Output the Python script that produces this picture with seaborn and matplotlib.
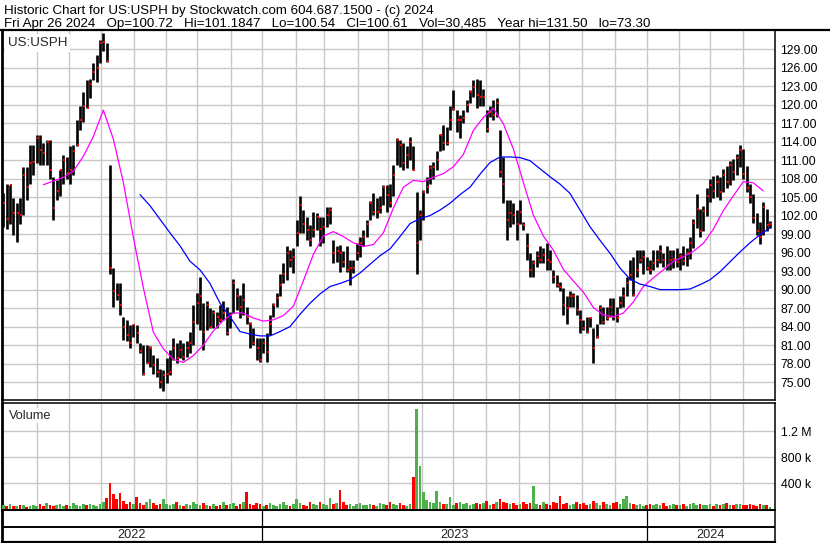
import matplotlib
matplotlib.use('Agg')
import matplotlib.pyplot as plt
from matplotlib.lines import Line2D
import numpy as np
import seaborn as sns

sns.set_style('white')
plt.rcParams['font.family'] = ['Liberation Sans', 'DejaVu Sans']

# ---------------- data (one bar per ~2 trading days) ----------------
highs = [105.6, 107.2, 107.0, 104.8, 104.0, 104.8, 109.9, 109.9, 113.4, 113.4,
         115.1, 115.1, 113.7, 114.3, 114.3, 108.3, 107.8, 109.4, 111.8, 111.5,
         113.2, 113.4, 117.5, 119.7, 122.1, 124.0, 124.2, 126.7, 128.0, 130.5,
         131.6, 129.9, 110.2, 93.5, 91.0, 91.0, 85.6, 85.1, 84.3, 84.5,
         84.3, 81.3, 81.0, 81.0, 80.8, 79.4, 78.9, 77.2, 77.0, 78.9,
         80.2, 82.1, 81.3, 81.8, 81.3, 81.6, 83.2, 87.5, 89.4, 92.1,
         87.8, 88.1, 87.0, 86.7, 86.4, 87.5, 88.1, 87.2, 86.4, 91.8,
         90.2, 89.1, 91.0, 87.2, 84.8, 83.7, 82.1, 82.1, 82.1, 82.9,
         85.9, 87.8, 89.4, 92.6, 94.3, 97.0, 96.4, 96.7, 101.3, 105.1,
         102.9, 101.8, 100.5, 102.6, 102.4, 101.8, 101.8, 103.4, 103.4, 98.0,
         97.0, 97.2, 96.2, 97.0, 94.8, 94.8, 97.5, 98.6, 99.7, 101.3,
         104.3, 105.6, 104.8, 105.1, 107.0, 107.0, 107.2, 110.2, 114.5, 114.3,
         113.7, 113.2, 114.8, 113.2, 105.9, 102.9, 106.1, 108.3, 110.2, 110.7,
         112.4, 115.3, 116.7, 116.4, 119.7, 122.4, 119.1, 118.3, 119.1, 120.7,
         122.4, 124.0, 124.2, 124.0, 122.6, 119.1, 119.7, 120.7, 121.0, 115.9,
         111.5, 104.5, 104.5, 104.0, 102.9, 104.5, 101.0, 99.1, 95.9, 94.8,
         96.2, 97.0, 96.7, 97.5, 96.4, 93.2, 92.4, 91.3, 90.2, 88.9,
         89.7, 89.4, 89.1, 86.7, 85.1, 85.6, 85.6, 83.7, 84.5, 87.5,
         87.2, 87.2, 88.6, 88.6, 87.2, 88.9, 90.5, 92.1, 94.8, 95.3,
         96.4, 96.4, 96.4, 95.3, 94.8, 96.4, 96.4, 97.2, 95.9, 97.0,
         96.4, 96.4, 96.8, 96.0, 97.0, 96.8, 98.5, 101.5, 105.5, 103.0,
         103.5, 106.5, 108.0, 108.4, 108.6, 108.2, 109.5, 110.0, 110.8, 111.2,
         112.0, 113.5, 112.8, 110.0, 107.2, 105.5, 102.5, 101.0, 104.2, 103.0,
         101.2]
lows = [100.2, 99.9, 100.7, 98.9, 97.8, 100.7, 102.1, 104.5, 107.2, 108.6,
        110.5, 110.2, 110.2, 110.2, 108.0, 101.3, 104.5, 105.1, 107.2, 108.0,
        107.2, 108.6, 113.2, 115.9, 117.2, 119.4, 121.0, 124.0, 123.7, 126.7,
        128.6, 126.9, 92.5, 87.2, 88.3, 85.9, 81.8, 81.6, 80.5, 82.4,
        81.3, 79.7, 76.2, 78.1, 77.5, 76.4, 75.9, 74.0, 73.5, 74.8,
        76.2, 78.6, 78.1, 78.9, 78.6, 79.1, 79.7, 81.0, 84.5, 83.5,
        80.2, 83.5, 83.7, 83.7, 83.7, 84.8, 85.1, 82.7, 83.7, 86.2,
        86.7, 85.4, 85.9, 84.5, 80.5, 81.0, 78.6, 78.3, 79.7, 78.3,
        82.7, 85.6, 87.2, 88.9, 91.0, 91.6, 93.7, 92.7, 97.0, 99.1,
        99.1, 98.0, 97.0, 98.6, 99.7, 97.0, 97.5, 100.2, 100.7, 94.3,
        94.5, 92.9, 93.7, 92.9, 90.7, 92.7, 94.8, 95.3, 97.0, 98.6,
        101.3, 102.1, 101.6, 102.4, 103.7, 102.6, 103.4, 105.1, 110.2, 109.9,
        109.4, 109.7, 111.0, 109.4, 92.6, 98.0, 101.3, 105.6, 107.2, 108.0,
        109.4, 112.4, 112.6, 113.4, 115.9, 119.1, 115.6, 114.5, 117.0, 118.8,
        120.2, 121.3, 119.4, 119.7, 119.7, 115.6, 118.0, 117.5, 118.0, 108.3,
        104.0, 98.0, 100.2, 100.7, 98.0, 100.7, 99.7, 94.8, 92.1, 92.1,
        93.7, 94.3, 94.3, 93.2, 93.2, 91.0, 90.5, 89.7, 85.9, 84.5,
        87.2, 87.2, 85.9, 83.0, 83.5, 83.0, 84.0, 78.1, 82.1, 84.5,
        84.5, 85.1, 85.6, 85.1, 84.8, 87.0, 87.2, 88.9, 91.6, 88.9,
        92.1, 94.3, 92.6, 93.2, 92.6, 93.2, 93.7, 94.3, 93.7, 93.2,
        93.2, 93.5, 93.7, 93.2, 94.0, 93.8, 95.0, 96.8, 100.0, 98.6,
        99.5, 102.0, 104.2, 104.8, 105.0, 104.6, 105.8, 106.5, 107.0, 107.8,
        108.5, 109.8, 108.0, 105.8, 104.0, 100.8, 98.8, 97.4, 98.8, 99.5,
        100.0]
closes = [104.1, 101.4, 106.9, 102.4, 102.4, 102.1, 108.6, 106.7, 110.5, 110.7,
          114.5, 112.6, 112.1, 114.0, 109.4, 103.3, 106.0, 109.4, 111.0, 108.9,
          109.4, 112.4, 113.4, 117.5, 119.7, 119.5, 123.4, 125.3, 125.9, 130.0,
          130.2, 127.0, 93.5, 89.7, 89.1, 87.5, 84.0, 82.7, 81.3, 84.3,
          82.9, 80.0, 76.4, 78.1, 80.5, 77.8, 76.7, 75.1, 76.2, 76.4,
          76.7, 80.5, 78.9, 80.2, 79.1, 80.5, 81.3, 84.8, 87.8, 88.9,
          83.2, 87.5, 84.0, 86.2, 85.6, 85.1, 86.2, 82.9, 85.9, 91.0,
          88.9, 87.2, 88.3, 85.6, 84.5, 81.3, 80.5, 78.6, 81.3, 79.9,
          84.5, 87.5, 88.6, 90.7, 92.6, 96.0, 94.8, 95.3, 99.1, 103.7,
          100.7, 99.7, 98.0, 99.7, 101.8, 99.9, 100.2, 102.1, 102.9, 95.9,
          96.2, 95.9, 94.5, 93.2, 93.5, 93.5, 95.9, 97.5, 98.6, 100.7,
          104.0, 102.6, 102.6, 103.2, 106.7, 105.3, 104.0, 108.6, 114.3, 113.4,
          110.5, 111.8, 114.0, 109.4, 97.5, 102.1, 105.9, 106.7, 109.7, 109.9,
          111.0, 115.1, 113.7, 113.7, 117.5, 119.3, 117.5, 117.5, 117.8, 119.9,
          122.0, 122.9, 121.5, 121.3, 121.3, 116.1, 118.8, 118.3, 120.2, 109.1,
          107.1, 101.3, 102.4, 102.1, 100.7, 102.6, 100.5, 97.1, 93.2, 94.3,
          95.5, 94.8, 95.6, 94.8, 94.5, 92.1, 90.7, 90.5, 87.5, 87.0,
          88.9, 88.9, 86.7, 85.1, 83.7, 83.2, 85.4, 80.5, 82.4, 87.0,
          84.8, 85.4, 87.2, 85.6, 85.4, 87.8, 88.9, 91.0, 92.4, 89.1,
          93.2, 94.8, 95.3, 93.5, 93.2, 94.3, 94.8, 96.2, 94.8, 94.0,
          94.8, 95.0, 94.5, 95.4, 94.6, 96.0, 97.6, 100.8, 103.0, 99.5,
          102.8, 105.2, 107.0, 106.0, 107.5, 105.8, 108.6, 107.4, 110.2, 109.0,
          111.4, 112.6, 108.8, 106.4, 105.0, 101.6, 99.5, 98.6, 103.4, 100.4,
          100.6]
volume_k = [70, 55, 80, 60, 50, 75, 65, 45, 60, 70,
            55, 80, 60, 95, 70, 50, 65, 85, 60, 75,
            60, 100, 70, 55, 80, 65, 90, 70, 60, 85,
            110, 170, 410, 235, 160, 250, 130, 90, 120, 80,
            185, 100, 75, 110, 165, 95, 70, 85, 160, 90,
            65, 80, 110, 70, 60, 90, 75, 120, 85, 65,
            100, 70, 55, 85, 60, 75, 110, 65, 80, 95,
            60, 85, 120, 270, 90, 70, 105, 80, 60, 75,
            95, 65, 55, 85, 110, 70, 60, 90, 165, 100,
            75, 60, 110, 85, 70, 120, 90, 65, 175, 80,
            95, 305, 110, 75, 90, 60, 85, 105, 70, 65,
            90, 75, 60, 100, 80, 70, 115, 85, 65, 95,
            75, 60, 90, 496, 1530, 663, 270, 150, 120, 100,
            280, 110, 85, 90, 190, 75, 100, 120, 80, 95,
            70, 85, 105, 80, 95, 130, 75, 90, 110, 160,
            120, 95, 80, 105, 70, 90, 115, 85, 100, 365,
            90, 75, 110, 85, 70, 120, 95, 205, 80, 100,
            75, 90, 115, 80, 100, 70, 85, 130, 95, 75,
            110, 85, 70, 100, 120, 90, 165, 215, 95, 80,
            70, 85, 60, 75, 90, 65, 80, 70, 95, 60,
            75, 85, 65, 70, 90, 60, 80, 95, 70, 85,
            65, 75, 90, 60, 80, 70, 85, 95, 65, 75,
            80, 90, 70, 65, 85, 75, 60, 80, 70, 75,
            45]
vol_green_days = [124]      # high-volume up session shown green

# moving averages, read every 3rd bar
ma_short_start = 12
ma_short = [107.0, 107.6, 108.2, 109.2, 111.6, 114.8, 119.1, 114.4, 107.4, 98.5,
            90.3, 83.1, 80.4, 78.7, 78.2, 79.3, 81.0, 83.3, 85.0, 86.2,
            86.2, 85.4, 84.9, 85.1, 85.8, 87.3, 91.4, 95.7, 98.7, 99.4,
            98.6, 97.6, 97.0, 97.3, 99.2, 103.2, 106.6, 107.7, 107.5, 108.2,
            108.8, 109.9, 111.9, 115.8, 117.9, 119.4, 116.9, 112.8, 107.4, 102.1,
            98.7, 96.4, 93.3, 91.4, 89.6, 87.1, 85.9, 85.6, 86.2, 88.0,
            90.5, 91.9, 93.2, 94.6, 95.3, 96.2, 97.5, 99.8, 102.8, 105.2,
            107.5, 107.3, 106.0]
ma_long_start = 41
ma_long = [105.4, 103.6, 101.4, 99.2, 97.1, 94.6, 93.2, 91.0, 87.8, 85.6,
           83.2, 82.8, 82.5, 82.5, 83.2, 84.0, 86.0, 87.8, 89.3, 90.5,
           91.0, 91.6, 92.7, 94.1, 95.5, 96.6, 98.6, 100.7, 101.5, 102.0,
           102.9, 104.0, 105.4, 106.6, 108.7, 110.6, 111.5, 111.5, 111.4, 110.9,
           109.6, 108.3, 107.1, 105.6, 102.9, 100.2, 98.0, 95.9, 93.5, 91.7,
           90.9, 90.5, 90.0, 90.0, 90.0, 90.1, 90.8, 91.6, 92.9, 94.5,
           96.1, 97.6, 98.9, 100.0]
ma_step = 3

# axis furniture
month_starts = [10.2, 19.8, 29.2, 39.3, 48.7, 58.2, 68.2, 77.5, 87.7, 96.3,
                106.3, 115.5, 125.7, 135.0, 144.7, 154.8, 163.8, 173.7, 183.6, 193.0,
                202.7, 212.0, 221.9]
year_labels = ['2022', '2023', '2024']
year_bounds = [77.5, 193.0]
price_ticks = list(range(75, 130, 3))
vol_ticks = [400, 800, 1200]
vol_tick_labels = ['400 k', '800 k', '1.2 M']

title1 = 'Historic Chart for US:USPH by Stockwatch.com 604.687.1500 - (c) 2024'
title2 = ('Fri Apr 26 2024   Op=100.72   Hi=101.1847   Lo=100.54   Cl=100.61   '
          'Vol=30,485   Year hi=131.50   lo=73.30')

# ---------------- figure ----------------
W, H = 830, 543
def box(left, top, right, bottom):
    return [left / W, 1 - bottom / H, (right - left) / W, (bottom - top) / H]

GRID = '#c8c8c8'
FS = 8.8
k = np.arange(len(closes))
XLIM = (-0.4, 231.5)

fig = plt.figure(figsize=(W / 100, H / 100), dpi=100)
ax = fig.add_axes(box(2, 31, 775, 400))
axv = fig.add_axes(box(2, 402.5, 775, 509.6))
axs = fig.add_axes(box(2, 509.6, 775, 542.3))

fig.text(4 / W, 1 - 14 / H, title1, fontsize=9.6, va='baseline', color='black')
fig.text(4 / W, 1 - 27 / H, title2, fontsize=9.6, va='baseline', color='black')
fig.add_artist(Line2D([0, 1], [1 - 30.2 / H] * 2, color='black', lw=1.6,
                      transform=fig.transFigure))

# price panel
ax.set_xlim(*XLIM)
ax.set_ylim(72.11, 131.92)
ax.set_axisbelow(True)
ax.set_xticks(month_starts)
ax.set_yticks(price_ticks)
ax.set_yticklabels([f'{v:.2f}' for v in price_ticks])
ax.grid(True, color=GRID, lw=1.0)
ax.yaxis.tick_right()
ax.tick_params(axis='y', length=0, pad=4, labelsize=FS, labelcolor='black')
ax.tick_params(axis='x', length=0, labelbottom=False)

ax.vlines(k, lows, highs, color='black', lw=1.9, zorder=3)
sns.scatterplot(x=k + 0.3, y=closes, marker='s', s=3.5, color='#ff0000',
                linewidth=0, ax=ax, zorder=4)
sns.lineplot(x=ma_short_start + ma_step * np.arange(len(ma_short)), y=ma_short,
             color='#ff00ff', lw=0.9, ax=ax, zorder=5)
sns.lineplot(x=ma_long_start + ma_step * np.arange(len(ma_long)), y=ma_long,
             color='#0000ff', lw=0.9, ax=ax, zorder=5)
ax.set_xlabel('')
ax.set_ylabel('')
ax.text(6 / 773, 0.959, 'US:USPH', transform=ax.transAxes, fontsize=9.6,
        va='baseline', ha='left', zorder=6,
        bbox=dict(facecolor='white', edgecolor='none', boxstyle='square,pad=0.2'))

# volume panel
up = np.r_[True, np.diff(closes) >= 0]
up[vol_green_days] = True
vcolors = np.where(up, '#4cb04c', '#ff0000')
axv.set_xlim(*XLIM)
axv.set_ylim(0, 1636)
axv.set_axisbelow(True)
axv.set_xticks(month_starts)
axv.set_yticks(vol_ticks)
axv.set_yticklabels(vol_tick_labels)
axv.grid(True, color=GRID, lw=1.0)
axv.yaxis.tick_right()
axv.tick_params(axis='y', length=0, pad=4, labelsize=FS, labelcolor='black')
axv.tick_params(axis='x', length=0, labelbottom=False)
axv.bar(k, volume_k, width=0.85, color=vcolors, linewidth=0, zorder=3)
axv.text(7 / 773, 0.85, 'Volume', transform=axv.transAxes, fontsize=9.2,
         va='baseline', ha='left', zorder=6,
         bbox=dict(facecolor='white', edgecolor='none', boxstyle='square,pad=0.15'))

# date strip
axs.set_xlim(*XLIM)
axs.set_ylim(0, 1)
axs.set_xticks([])
axs.set_yticks([])
axs.axhline(0.46, color='black', lw=1.4)
for b in year_bounds:
    axs.axvline(b, color='black', lw=0.9)
edges = [XLIM[0]] + year_bounds + [XLIM[1]]
for lab, a, b in zip(year_labels, edges[:-1], edges[1:]):
    axs.text((a + b) / 2, 0.22, lab, ha='center', va='center', fontsize=9.2)

for a in (ax, axv, axs):
    for side, sp in a.spines.items():
        sp.set_visible(True)
        sp.set_color('black')
        sp.set_linewidth(1.1)
    a.spines['left'].set_linewidth(2.0)
ax.spines['top'].set_visible(False)
axs.spines['bottom'].set_linewidth(1.6)
axs.spines['top'].set_linewidth(1.4)

fig.savefig('out.png', dpi=100)
